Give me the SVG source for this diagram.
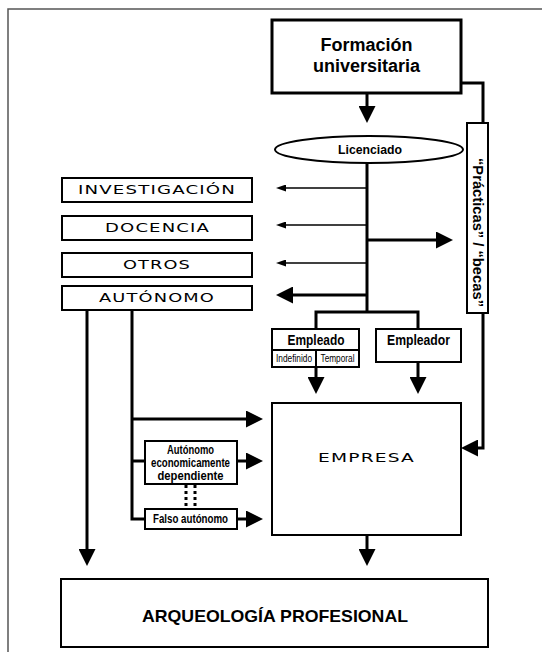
<svg xmlns="http://www.w3.org/2000/svg" width="542" height="652" viewBox="0 0 542 652">
<style>
.box{fill:#fff;stroke:#000;stroke-width:2}
.thick{fill:#fff;stroke:#000;stroke-width:3}
.ln{fill:none;stroke:#000;stroke-width:3}
.thin{fill:none;stroke:#000;stroke-width:1.5}
.b{font-family:"Liberation Sans",Arial,sans-serif;font-weight:bold;fill:#000;text-anchor:middle}
.n{font-family:"Liberation Sans",Arial,sans-serif;font-weight:normal;fill:#000;text-anchor:middle}
.w{font-family:"DejaVu Sans","Liberation Sans",sans-serif;fill:#000;text-anchor:middle;font-size:12.5px;letter-spacing:0.8px}
</style>
<defs>
<marker id="big" markerUnits="userSpaceOnUse" markerWidth="17" markerHeight="17" refX="1" refY="8.5" orient="auto"><path d="M0,0 L17,8.5 L0,17 z" fill="#000"/></marker>
<marker id="sm" markerUnits="userSpaceOnUse" markerWidth="10" markerHeight="7" refX="1" refY="3.5" orient="auto"><path d="M0,0 L10,3.5 L0,7 z" fill="#000"/></marker>
</defs>
<rect width="542" height="652" fill="#fff"/>
<path d="M8,652 V9 H542" fill="none" stroke="#555" stroke-width="1.5"/>

<g id="connectors">
<line class="ln" x1="367" y1="93" x2="367" y2="107" marker-end="url(#big)"/>
<line class="ln" x1="367" y1="163" x2="367" y2="312"/>
<line class="thin" x1="367" y1="188" x2="285" y2="188" marker-end="url(#sm)"/>
<line class="thin" x1="367" y1="225" x2="285" y2="225" marker-end="url(#sm)"/>
<line class="thin" x1="367" y1="263" x2="285" y2="263" marker-end="url(#sm)"/>
<line class="ln" x1="367" y1="295" x2="292" y2="295" marker-end="url(#big)"/>
<line class="ln" x1="367" y1="240" x2="437" y2="240" marker-end="url(#big)"/>
<path class="ln" d="M316,329 V312 H418 V329"/>
<line class="ln" x1="316" y1="367" x2="316" y2="378" marker-end="url(#big)"/>
<line class="ln" x1="418" y1="362" x2="418" y2="378" marker-end="url(#big)"/>
<line class="ln" x1="367" y1="535" x2="367" y2="550" marker-end="url(#big)"/>
<path class="ln" d="M461,83 H483 V123"/>
<path class="ln" d="M483,313 V448 H477" marker-end="url(#big)"/>
<line class="ln" x1="87" y1="310" x2="87" y2="550" marker-end="url(#big)"/>
<path class="ln" d="M132,310 V519 H145"/>
<line class="ln" x1="132" y1="461" x2="145" y2="461"/>
<line class="ln" x1="132" y1="419" x2="247" y2="419" marker-end="url(#big)"/>
<line class="ln" x1="237" y1="461" x2="247" y2="461" marker-end="url(#big)"/>
<line class="ln" x1="237" y1="519" x2="247" y2="519" marker-end="url(#big)"/>
<line x1="186" y1="485" x2="186" y2="509" stroke="#000" stroke-width="3" stroke-dasharray="3,3"/>
<line x1="195" y1="485" x2="195" y2="509" stroke="#000" stroke-width="3" stroke-dasharray="3,3"/>
</g>

<g id="formacion">
<rect class="thick" x="272" y="20" width="189" height="73"/>
<text class="b" x="366.5" y="51" font-size="18">Formación</text>
<text class="b" x="366.5" y="72" font-size="18">universitaria</text>
</g>

<g id="licenciado">
<ellipse class="box" cx="369" cy="149.5" rx="94" ry="13.5"/>
<text class="b" x="370" y="153.5" font-size="13" textLength="64" lengthAdjust="spacingAndGlyphs">Licenciado</text>
</g>

<g id="practicas">
<rect class="box" x="467" y="123" width="21" height="190" stroke-width="2.5"/>
<text class="b" transform="translate(472.5,232.5) rotate(90)" x="0" y="0" font-size="14" textLength="149" lengthAdjust="spacingAndGlyphs">“Prácticas” / “becas”</text>
</g>

<g id="investigacion">
<rect class="box" x="62" y="178" width="190" height="24"/>
<text class="w" x="157" y="194" textLength="158" lengthAdjust="spacingAndGlyphs">INVESTIGACIÓN</text>
</g>
<g id="docencia">
<rect class="box" x="62" y="216" width="190" height="24"/>
<text class="w" x="157.5" y="232" textLength="105" lengthAdjust="spacingAndGlyphs">DOCENCIA</text>
</g>
<g id="otros">
<rect class="box" x="62" y="253" width="190" height="24"/>
<text class="w" x="157" y="269" textLength="68" lengthAdjust="spacingAndGlyphs">OTROS</text>
</g>
<g id="autonomo">
<rect class="box" x="62" y="286" width="190" height="24"/>
<text class="w" x="157" y="302" textLength="116" lengthAdjust="spacingAndGlyphs">AUTÓNOMO</text>
</g>

<g id="empleado">
<rect class="box" x="272" y="329" width="87" height="38"/>
<line class="box" x1="272" y1="350" x2="359" y2="350" stroke-width="1.5"/>
<line class="box" x1="316" y1="350" x2="316" y2="367" stroke-width="1.5"/>
<text class="b" x="316" y="345" font-size="15" textLength="57" lengthAdjust="spacingAndGlyphs">Empleado</text>
<text class="n" x="294" y="362" font-size="10" textLength="36" lengthAdjust="spacingAndGlyphs">Indefinido</text>
<text class="n" x="337.5" y="362" font-size="10" textLength="34" lengthAdjust="spacingAndGlyphs">Temporal</text>
</g>

<g id="empleador">
<rect class="box" x="376" y="329" width="85" height="33"/>
<text class="b" x="418.5" y="345" font-size="15" textLength="63" lengthAdjust="spacingAndGlyphs">Empleador</text>
</g>

<g id="empresa">
<rect class="box" x="272" y="403" width="189" height="132" stroke-width="2.5"/>
<text class="w" x="366.5" y="462" font-size="13" textLength="97" lengthAdjust="spacingAndGlyphs">EMPRESA</text>
</g>

<g id="autonomo-dependiente">
<rect class="box" x="145" y="441" width="92" height="43"/>
<text class="b" x="190.5" y="454" font-size="12.5" textLength="47" lengthAdjust="spacingAndGlyphs">Autónomo</text>
<text class="b" x="190.5" y="467" font-size="12.5" textLength="79" lengthAdjust="spacingAndGlyphs">economicamente</text>
<text class="b" x="190.5" y="480" font-size="12.5" textLength="66" lengthAdjust="spacingAndGlyphs">dependiente</text>
</g>

<g id="falso-autonomo">
<rect class="box" x="145" y="509" width="92" height="20"/>
<text class="b" x="190.5" y="523" font-size="12.5" textLength="75" lengthAdjust="spacingAndGlyphs">Falso autónomo</text>
</g>

<g id="arqueologia">
<rect class="box" x="61" y="579" width="427" height="68" stroke-width="2.5"/>
<text class="b" x="275" y="622" font-size="17" textLength="266" lengthAdjust="spacingAndGlyphs">ARQUEOLOGÍA PROFESIONAL</text>
</g>
</svg>
